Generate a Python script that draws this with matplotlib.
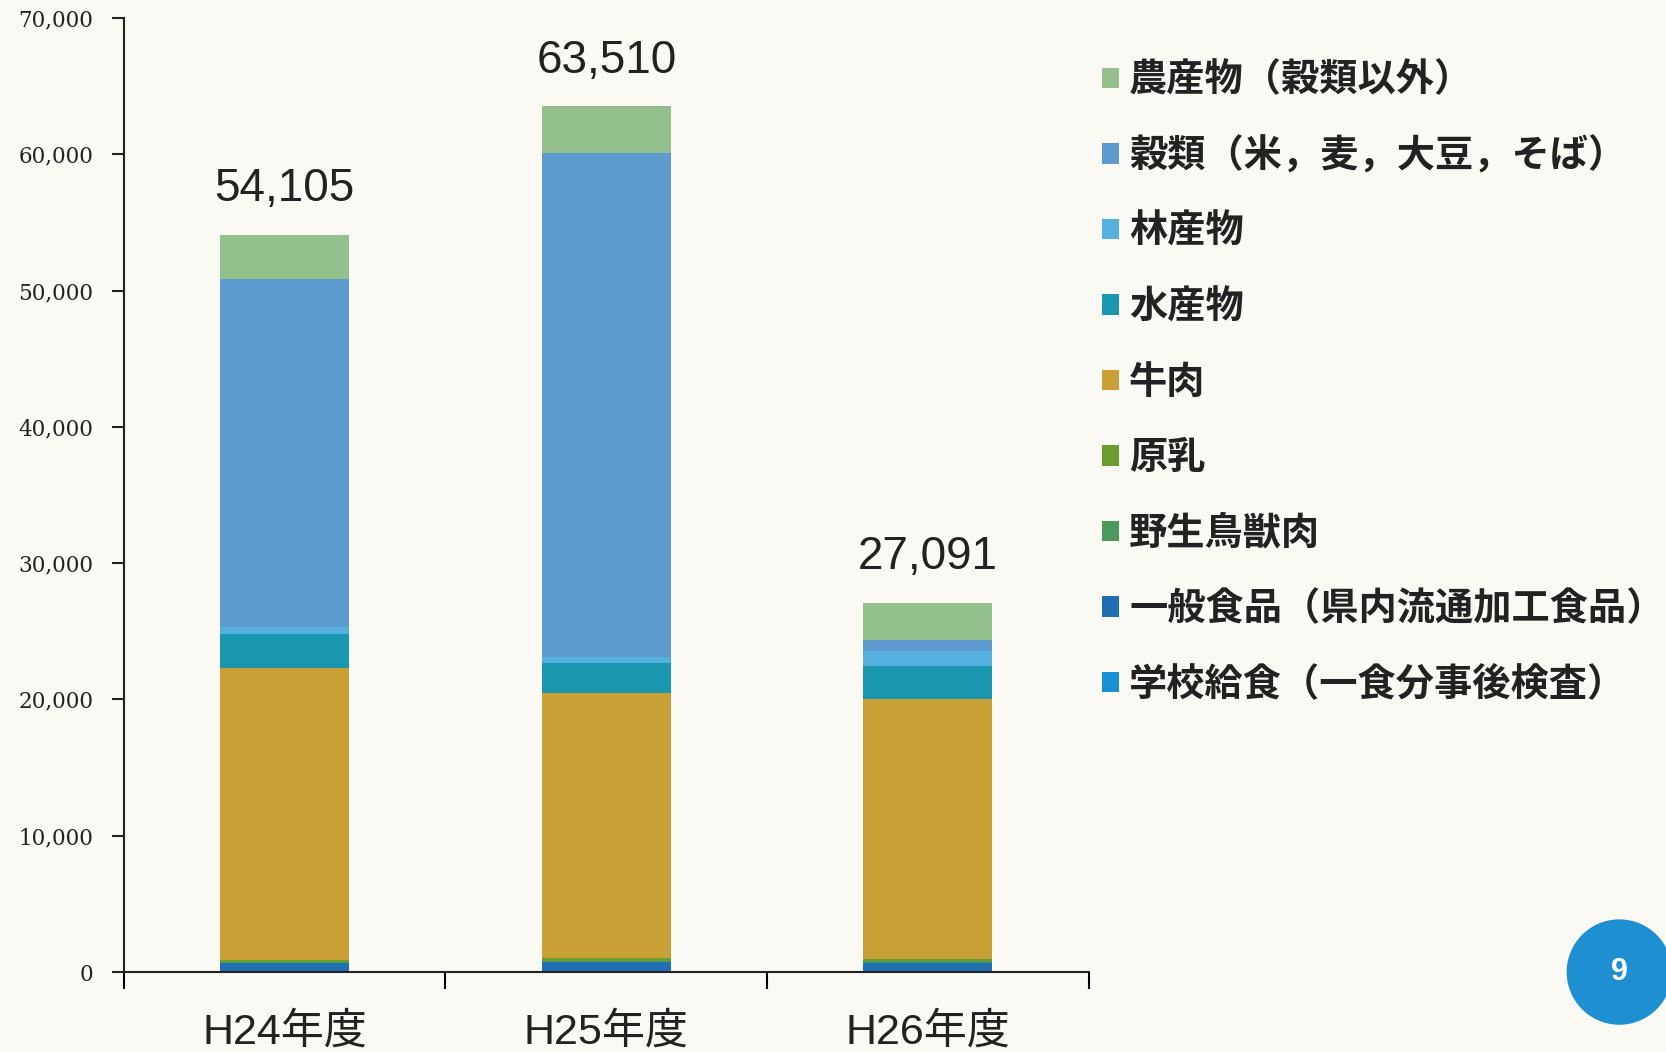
import matplotlib
matplotlib.use("Agg")
import matplotlib.pyplot as plt
from matplotlib.patches import Ellipse
from matplotlib.ticker import FuncFormatter
import numpy as np

plt.rcParams['font.family'] = ['Noto Sans CJK JP', 'DejaVu Sans']

# Data (inspection counts per year), stacked from bottom to top
years = ["H24年度", "H25年度", "H26年度"]
totals = [54105, 63510, 27091]
school_lunch = [80, 90, 80]          # 学校給食
general_food = [580, 640, 600]       # 一般食品
wild_game = [60, 80, 150]            # 野生鳥獣肉
raw_milk = [180, 230, 150]           # 原乳
beef = [21400, 19430, 19050]         # 牛肉
fishery = [2500, 2200, 2420]         # 水産物
forestry = [510, 440, 1100]          # 林産物
grains = [25510, 36980, 810]         # 穀類
agri = [3285, 3420, 2731]            # 農産物（穀類以外）

series = [
    ("学校給食（一食分事後検査）", school_lunch, "#1b8fd4"),
    ("一般食品（県内流通加工食品）", general_food, "#1f6fb2"),
    ("野生鳥獣肉", wild_game, "#4b9a5c"),
    ("原乳", raw_milk, "#6b9e2e"),
    ("牛肉", beef, "#c9a036"),
    ("水産物", fishery, "#1a96ae"),
    ("林産物", forestry, "#56b0e0"),
    ("穀類（米，麦，大豆，そば）", grains, "#5d9bcf"),
    ("農産物（穀類以外）", agri, "#93c08c"),
]

bg = "#fbf9f3"
fig = plt.figure(figsize=(16.66, 10.52), dpi=100, facecolor=bg)
ax = fig.add_axes([0.0744, 0.076, 0.579, 0.907])
ax.set_facecolor(bg)

x = np.arange(len(years))
bottom = np.zeros(len(years))
handles = []
for name, vals, col in series:
    b = ax.bar(x, vals, width=0.40, bottom=bottom, color=col, label=name)
    bottom += np.array(vals)
    handles.append(b)

for xi, t in zip(x, totals):
    ax.annotate(f"{t:,}", (xi, t), xytext=(0, 17), textcoords="offset points",
                ha="center", va="bottom", fontsize=33, family="Liberation Sans",
                color="#222222")

ax.set_xlim(-0.5, 2.5)
ax.set_ylim(0, 70000)
ax.set_yticks(range(0, 70001, 10000))
ax.yaxis.set_major_formatter(FuncFormatter(lambda v, p: f"{int(v):,}"))
for lab in ax.get_yticklabels():
    lab.set_family("DejaVu Serif")
    lab.set_fontsize(15.5)
ax.tick_params(axis="y", length=9, width=1.5, pad=13, colors="#222222")

ax.set_xticks([-0.5, 0.5, 1.5, 2.5])
ax.set_xticklabels([])
ax.tick_params(axis="x", which="major", length=12, width=1.5, direction="out")
ax.set_xticks(x, minor=True)
ax.set_xticklabels(years, minor=True, fontsize=31, color="#222222",
                   family=["Liberation Sans", "Noto Sans CJK JP"])
ax.tick_params(axis="x", which="minor", length=0, pad=29)

for s in ["top", "right"]:
    ax.spines[s].set_visible(False)
for s in ["left", "bottom"]:
    ax.spines[s].set_linewidth(1.5)
    ax.spines[s].set_color("#222222")

leg = fig.legend(handles=handles[::-1], loc="upper left",
                 bbox_to_anchor=(0.641, 0.975), frameon=False,
                 prop={"size": 27.5, "weight": "bold"},
                 handlelength=0.45, handleheight=0.45, handletextpad=0.25,
                 labelspacing=0.955)
for t in leg.get_texts():
    t.set_color("#222222")

circ = Ellipse((0.972, 0.076), 104 / 1666, 104 / 1052, transform=fig.transFigure,
               color="#1e8fd0", zorder=5)
fig.patches.append(circ)
fig.text(0.972, 0.076, "9", transform=fig.transFigure, ha="center", va="center",
         color="white", fontsize=22, weight="bold", family="Liberation Sans", zorder=6)

fig.savefig("out.png", dpi=100, facecolor=bg)
